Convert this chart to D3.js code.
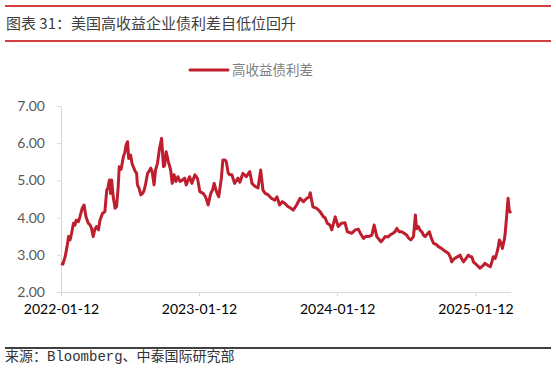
<!DOCTYPE html>
<html lang="zh">
<head>
  <meta charset="UTF-8">
  <title>美国高收益企业债利差</title>
  <style>
    body { margin: 0; background: #fff; }
    svg { display: block; }
  </style>
</head>
<body>
  <script src="https://d3js.org/d3.v7.min.js"></script>
  <script>
    const width = 556, height = 368;

    // readings (date, spread %)
    const dates = [
      "2022-01-12","2022-01-17","2022-01-23","2022-01-28","2022-02-01","2022-02-05","2022-02-09","2022-02-14","2022-02-18","2022-02-21",
      "2022-02-27","2022-03-03","2022-03-09","2022-03-14","2022-03-19","2022-03-25","2022-03-30","2022-04-03","2022-04-07","2022-04-12",
      "2022-04-16","2022-04-21","2022-04-25","2022-05-02","2022-05-08","2022-05-13","2022-05-16","2022-05-20","2022-05-23","2022-05-26",
      "2022-05-30","2022-06-04","2022-06-08","2022-06-12","2022-06-15","2022-06-20","2022-06-26","2022-06-30","2022-07-03","2022-07-07",
      "2022-07-10","2022-07-15","2022-07-19","2022-07-22","2022-07-27","2022-07-31","2022-08-02","2022-08-06","2022-08-11","2022-08-16",
      "2022-08-20","2022-08-24","2022-08-29","2022-09-02","2022-09-06","2022-09-10","2022-09-15","2022-09-19","2022-09-24","2022-09-29",
      "2022-10-05","2022-10-10","2022-10-13","2022-10-17","2022-10-23","2022-10-29","2022-11-02","2022-11-07","2022-11-12","2022-11-17",
      "2022-11-23","2022-11-28","2022-12-05","2022-12-09","2022-12-14","2022-12-18","2022-12-24","2023-01-01","2023-01-08","2023-01-14",
      "2023-01-23","2023-01-29","2023-02-02","2023-02-05","2023-02-12","2023-02-17","2023-02-21","2023-02-27","2023-03-05","2023-03-12",
      "2023-03-16","2023-03-22","2023-03-25","2023-03-30","2023-04-03","2023-04-09","2023-04-16","2023-04-25","2023-04-30","2023-05-08",
      "2023-05-17","2023-05-26","2023-06-01","2023-06-10","2023-06-17","2023-06-24","2023-06-30","2023-07-06","2023-07-14","2023-07-22",
      "2023-07-31","2023-08-06","2023-08-13","2023-08-20","2023-08-27","2023-09-05","2023-09-12","2023-09-18","2023-09-27","2023-10-06",
      "2023-10-15","2023-10-24","2023-10-30","2023-11-02","2023-11-09","2023-11-19","2023-11-28","2023-12-07","2023-12-11","2023-12-17",
      "2023-12-24","2023-12-29","2024-01-07","2024-01-15","2024-01-24","2024-02-02","2024-02-08","2024-02-20","2024-02-29","2024-03-08",
      "2024-03-15","2024-03-22","2024-03-29","2024-04-04","2024-04-13","2024-04-19","2024-04-26","2024-05-07","2024-05-13","2024-05-18",
      "2024-05-26","2024-05-31","2024-06-08","2024-06-13","2024-06-18","2024-06-24","2024-07-01","2024-07-07","2024-07-14","2024-07-19",
      "2024-07-25","2024-08-01","2024-08-06","2024-08-09","2024-08-14","2024-08-19","2024-08-23","2024-08-28","2024-09-01","2024-09-06",
      "2024-09-12","2024-09-17","2024-09-23","2024-09-30","2024-10-06","2024-10-13","2024-10-19","2024-10-26","2024-11-01","2024-11-06",
      "2024-11-10","2024-11-15","2024-11-19","2024-11-26","2024-12-02","2024-12-06","2024-12-11","2024-12-18","2024-12-24","2024-12-29",
      "2025-01-02","2025-01-07","2025-01-11","2025-01-16","2025-01-24","2025-01-31","2025-02-06","2025-02-13","2025-02-20","2025-02-24",
      "2025-02-28","2025-03-05","2025-03-09","2025-03-13","2025-03-16","2025-03-21","2025-03-24","2025-03-29","2025-03-31","2025-04-04",
      "2025-04-08","2025-04-11","2025-04-15"
    ];
    const spread = [
      2.77,2.75,2.95,3.22,3.49,3.40,3.58,3.85,3.80,3.93,
      3.89,4.02,4.25,4.34,4.02,3.85,3.80,3.70,3.49,3.70,
      3.76,3.67,3.93,4.12,4.16,4.74,4.80,5.01,4.65,5.01,
      4.56,4.25,4.30,4.79,5.37,5.30,5.64,5.75,5.95,6.04,
      5.59,5.68,5.45,5.37,5.25,5.19,4.88,4.80,4.61,4.65,
      4.74,4.92,5.19,5.25,5.33,5.24,4.88,5.28,5.46,5.82,
      6.13,5.37,5.40,5.77,5.50,5.28,4.92,5.15,4.97,5.10,
      4.97,5.00,5.06,4.88,5.00,5.10,4.92,5.15,5.05,4.70,
      4.65,4.56,4.45,4.34,4.65,4.75,4.92,4.70,4.56,5.06,
      5.55,5.55,5.50,5.20,5.15,5.15,4.92,5.06,4.95,5.19,
      5.10,5.24,4.92,4.83,4.80,5.28,4.74,4.65,4.61,4.52,
      4.47,4.56,4.34,4.43,4.38,4.29,4.25,4.20,4.34,4.52,
      4.43,4.52,4.55,4.67,4.29,4.25,4.16,4.02,4.00,3.85,
      3.80,3.67,4.02,3.76,3.85,3.86,3.62,3.58,3.67,3.69,
      3.55,3.44,3.50,3.49,3.53,3.80,3.49,3.35,3.42,3.49,
      3.48,3.53,3.58,3.62,3.71,3.62,3.62,3.58,3.53,3.45,
      3.40,3.49,4.07,3.70,3.76,3.65,3.62,3.52,3.49,3.55,
      3.62,3.45,3.31,3.28,3.22,3.18,3.13,3.08,3.04,2.95,
      2.81,2.88,2.91,2.95,2.99,2.90,2.81,2.90,2.99,2.95,
      2.95,2.80,2.77,2.72,2.64,2.70,2.77,2.72,2.68,2.80,
      2.95,2.90,3.04,3.20,3.40,3.30,3.17,3.40,3.53,4.00,
      4.52,4.20,4.12
    ];
    const yTicks = [2, 3, 4, 5, 6, 7];
    const xTicks = ["2022-01-12", "2023-01-12", "2024-01-12", "2025-01-12"];
    const seriesName = "高收益债利差";

    const parse = d3.timeParse("%Y-%m-%d");
    const data = dates.map((d, i) => ({ date: parse(d), value: spread[i] }));

    const svg = d3.select("body").append("svg")
      .attr("width", width)
      .attr("height", height);

    // header and footer rules
    svg.append("line").attr("x1", 5).attr("x2", 551).attr("y1", 6).attr("y2", 6)
      .attr("stroke", "#c00000").attr("stroke-width", 1.5);
    svg.append("line").attr("x1", 5).attr("x2", 551).attr("y1", 41).attr("y2", 41)
      .attr("stroke", "#c00000").attr("stroke-width", 1.5);
    svg.append("line").attr("x1", 5).attr("x2", 551).attr("y1", 348).attr("y2", 348)
      .attr("stroke", "#000").attr("stroke-width", 1.5);

    svg.append("text")
      .attr("x", 6).attr("y", 29)
      .attr("font-family", "'Noto Sans CJK SC', sans-serif")
      .attr("font-size", 15)
      .attr("fill", "#404040")
      .text("图表 31：美国高收益企业债利差自低位回升");

    svg.append("text")
      .attr("x", 5).attr("y", 361)
      .attr("font-family", "'Liberation Mono', 'Noto Sans CJK SC', monospace")
      .attr("font-size", 14)
      .attr("fill", "#333")
      .text("来源：Bloomberg、中泰国际研究部");

    const x = d3.scaleTime()
      .domain([parse("2022-01-12"), parse("2025-04-15")])
      .range([61, 510.7]);

    const y = d3.scaleLinear()
      .domain([2, 7])
      .range([292, 106]);

    const yAxis = svg.append("g")
      .attr("transform", "translate(61,0)")
      .call(d3.axisLeft(y).tickValues(yTicks).tickFormat(d3.format(".2f")).tickSize(4).tickPadding(12).tickSizeOuter(0));
    yAxis.select(".domain").attr("stroke", "#d9d9d9");
    yAxis.selectAll(".tick line").attr("stroke", "#d9d9d9");
    yAxis.selectAll(".tick text")
      .attr("font-family", "Lato, sans-serif").attr("font-size", 14).attr("fill", "#595959");

    const xAxis = svg.append("g")
      .attr("transform", "translate(0,292)")
      .call(d3.axisBottom(x).tickValues(xTicks.map(parse)).tickFormat(d3.timeFormat("%Y-%m-%d")).tickSize(4).tickPadding(8).tickSizeOuter(0));
    xAxis.select(".domain").attr("stroke", "#d9d9d9");
    xAxis.selectAll(".tick line").attr("stroke", "#d9d9d9");
    xAxis.selectAll(".tick text")
      .attr("font-family", "Lato, sans-serif").attr("font-size", 14).attr("fill", "#000");

    const line = d3.line()
      .x(d => x(d.date))
      .y(d => y(d.value));

    svg.append("path")
      .datum(data)
      .attr("d", line)
      .attr("fill", "none")
      .attr("stroke", "#be1e2d")
      .attr("stroke-width", 3)
      .attr("stroke-linejoin", "round");

    // legend
    svg.append("line").attr("x1", 190).attr("x2", 228).attr("y1", 70).attr("y2", 70)
      .attr("stroke", "#be1e2d").attr("stroke-width", 3).attr("stroke-linecap", "round");
    svg.append("text")
      .attr("x", 232).attr("y", 75)
      .attr("font-family", "'Noto Sans CJK SC', sans-serif")
      .attr("font-size", 13.5)
      .attr("fill", "#7f7f7f")
      .text(seriesName);
  </script>
</body>
</html>
